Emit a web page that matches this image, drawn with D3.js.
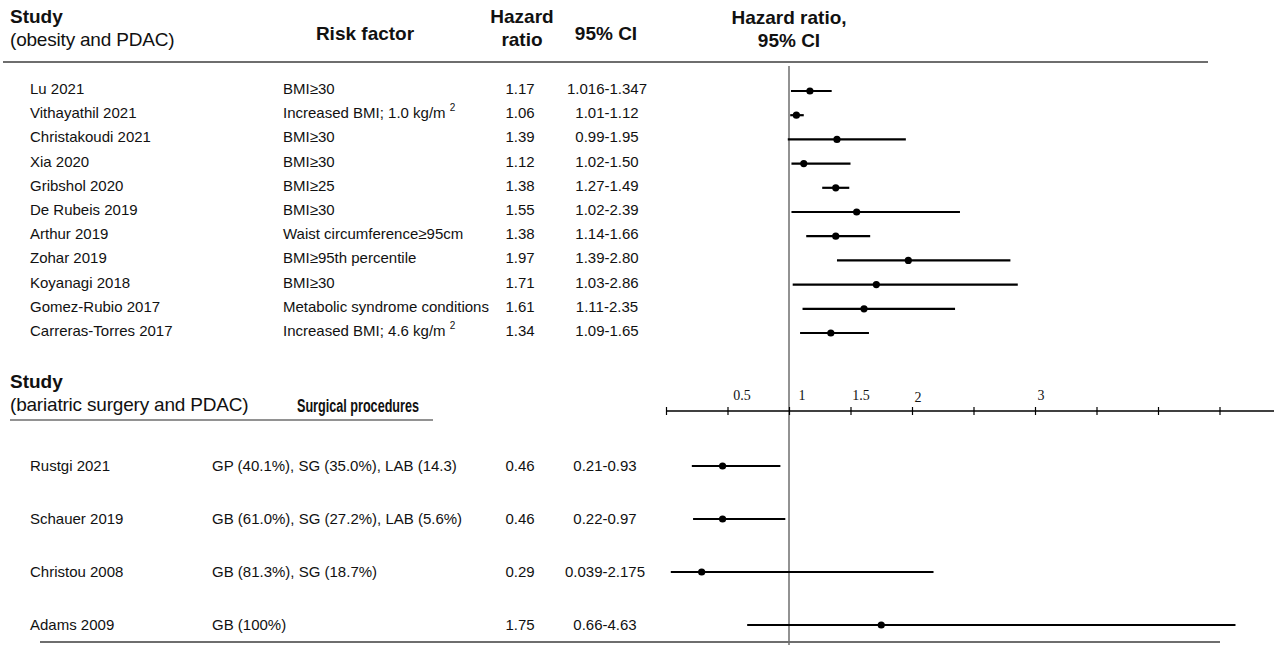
<!DOCTYPE html>
<html>
<head>
<meta charset="utf-8">
<script src="https://cdn.jsdelivr.net/npm/d3@7/dist/d3.min.js"></script>
<style>
  html, body { margin: 0; padding: 0; background: #fff; }
  svg { display: block; font-family: Arial, "Liberation Sans", sans-serif; }
</style>
</head>
<body>
<svg id="chart" width="1274" height="645"></svg>
<script>
// ---------- DATA ----------
const obesityStudies = ["Lu 2021", "Vithayathil 2021", "Christakoudi 2021", "Xia 2020", "Gribshol 2020",
  "De Rubeis 2019", "Arthur 2019", "Zohar 2019", "Koyanagi 2018", "Gomez-Rubio 2017", "Carreras-Torres 2017"];
const obesityFactors = ["BMI≥30", "Increased BMI; 1.0 kg/m|2", "BMI≥30", "BMI≥30", "BMI≥25", "BMI≥30",
  "Waist circumference≥95cm", "BMI≥95th percentile", "BMI≥30", "Metabolic syndrome conditions", "Increased BMI; 4.6 kg/m|2"];
const obesityHR = [1.17, 1.06, 1.39, 1.12, 1.38, 1.55, 1.38, 1.97, 1.71, 1.61, 1.34];
const obesityLow = [1.016, 1.01, 0.99, 1.02, 1.27, 1.02, 1.14, 1.39, 1.03, 1.11, 1.09];
const obesityHigh = [1.347, 1.12, 1.95, 1.50, 1.49, 2.39, 1.66, 2.80, 2.86, 2.35, 1.65];
const obesityHRText = ["1.17", "1.06", "1.39", "1.12", "1.38", "1.55", "1.38", "1.97", "1.71", "1.61", "1.34"];
const obesityCIText = ["1.016-1.347", "1.01-1.12", "0.99-1.95", "1.02-1.50", "1.27-1.49", "1.02-2.39",
  "1.14-1.66", "1.39-2.80", "1.03-2.86", "1.11-2.35", "1.09-1.65"];

const surgeryStudies = ["Rustgi 2021", "Schauer 2019", "Christou 2008", "Adams 2009"];
const surgeryProcedures = ["GP (40.1%), SG (35.0%),  LAB (14.3)", "GB (61.0%), SG (27.2%), LAB (5.6%)",
  "GB (81.3%), SG (18.7%)", "GB (100%)"];
const surgeryHR = [0.46, 0.46, 0.29, 1.75];
const surgeryLow = [0.21, 0.22, 0.039, 0.66];
const surgeryHigh = [0.93, 0.97, 2.175, 4.63];
const surgeryHRText = ["0.46", "0.46", "0.29", "1.75"];
const surgeryCIText = ["0.21-0.93", "0.22-0.97", "0.039-2.175", "0.66-4.63"];

const axisTicks = [0, 0.5, 1, 1.5, 2, 2.5, 3, 3.5, 4, 4.5];
const axisLabels = ["0.5", "1", "1.5", "2", "3"];
const axisLabelValues = [0.5, 1, 1.5, 2, 3];

// ---------- LAYOUT ----------
const svg = d3.select("#chart");
const x = d3.scaleLinear().domain([0, 1]).range([666, 789]);
const yTop = d3.scalePoint().domain(obesityStudies).range([90, 332]);
const yBot = d3.scalePoint().domain(surgeryStudies).range([466, 625]);

const bodySize = 15, headSize = 19, subSize = 19;
const gray = "#6e6e6e";

function txt(xp, yp, s, opts = {}) {
  const t = svg.append("text")
    .attr("x", xp).attr("y", yp)
    .attr("font-size", opts.size || bodySize)
    .attr("font-weight", opts.bold ? "bold" : "normal")
    .attr("text-anchor", opts.anchor || "start")
    .attr("dominant-baseline", "middle")
    .attr("fill", "#111");
  if (opts.spacing) t.attr("letter-spacing", opts.spacing);
  if (opts.len) t.attr("textLength", opts.len).attr("lengthAdjust", "spacingAndGlyphs");
  if (s.includes("|")) {
    const [a, b] = s.split("|");
    t.append("tspan").text(a + " ");
    t.append("tspan").attr("font-size", 10).attr("dy", -6).text(b);
  } else t.text(s);
  return t;
}

// Headers (top)
txt(10, 18, "Study", {bold: true, size: headSize});
txt(10, 41, "(obesity and PDAC)", {size: subSize, spacing: -0.2});
txt(365, 35, "Risk factor", {bold: true, size: headSize, anchor: "middle"});
txt(522, 18, "Hazard", {bold: true, size: headSize, anchor: "middle"});
txt(522, 41, "ratio", {bold: true, size: headSize, anchor: "middle"});
txt(606, 35, "95% CI", {bold: true, size: headSize, anchor: "middle"});
txt(789, 19, "Hazard ratio,", {bold: true, size: headSize, anchor: "middle"});
txt(789, 42, "95% CI", {bold: true, size: headSize, anchor: "middle"});

// rules
svg.append("line").attr("x1", 3).attr("x2", 1208).attr("y1", 62).attr("y2", 62)
  .attr("stroke", gray).attr("stroke-width", 2);
svg.append("line").attr("x1", 40).attr("x2", 1220).attr("y1", 642).attr("y2", 642)
  .attr("stroke", gray).attr("stroke-width", 2);
svg.append("line").attr("x1", 10).attr("x2", 433).attr("y1", 420).attr("y2", 420)
  .attr("stroke", gray).attr("stroke-width", 1.5);

// reference line at HR = 1
svg.append("line").attr("x1", x(1)).attr("x2", x(1)).attr("y1", 66).attr("y2", 645)
  .attr("stroke", gray).attr("stroke-width", 1.5);

// Obesity rows
obesityStudies.forEach((s, i) => {
  const yy = yTop(s);
  txt(30, yy, s);
  txt(283, yy, obesityFactors[i]);
  txt(520, yy, obesityHRText[i], {anchor: "middle"});
  txt(607, yy, obesityCIText[i], {anchor: "middle"});
  svg.append("line").attr("x1", x(obesityLow[i])).attr("x2", x(obesityHigh[i]))
    .attr("y1", yy + 1).attr("y2", yy + 1).attr("stroke", "#000").attr("stroke-width", 2.2);
  svg.append("circle").attr("cx", x(obesityHR[i])).attr("cy", yy + 1).attr("r", 3.6).attr("fill", "#000");
});

// Lower headers
txt(10, 383, "Study", {bold: true, size: headSize});
txt(10, 406, "(bariatric surgery and PDAC)", {size: subSize, spacing: -0.2});
txt(297, 407, "Surgical procedures", {bold: true, size: 18, len: 122});

// Axis
const axis = d3.axisTop(x).tickValues(axisTicks).tickSize(8).tickFormat("");
const ag = svg.append("g").attr("transform", "translate(0,415)").call(axis);
ag.select(".domain").attr("d", "M666,-4H1274").attr("stroke", "#000").attr("stroke-width", 1.3);
ag.selectAll(".tick line").attr("stroke", "#000").attr("stroke-width", 1.2);
const labelShift = [14.5, 13, 10.5, 6, 6];
const labelDy = [0, 0, 0, 2, 0];
axisLabels.forEach((l, i) => {
  svg.append("text").attr("x", x(axisLabelValues[i]) + labelShift[i]).attr("y", 400 + labelDy[i])
    .attr("text-anchor", "middle").attr("font-family", "'Liberation Serif', 'Times New Roman', serif")
    .attr("font-size", 14).attr("fill", "#111").text(l);
});

// Surgery rows
surgeryStudies.forEach((s, i) => {
  const yy = yBot(s);
  txt(30, yy + 1, s);
  txt(212, yy + 1, surgeryProcedures[i]);
  txt(520, yy + 1, surgeryHRText[i], {anchor: "middle"});
  txt(605, yy + 1, surgeryCIText[i], {anchor: "middle"});
  svg.append("line").attr("x1", x(surgeryLow[i])).attr("x2", x(surgeryHigh[i]))
    .attr("y1", yy).attr("y2", yy).attr("stroke", "#000").attr("stroke-width", 2.2);
  svg.append("circle").attr("cx", x(surgeryHR[i])).attr("cy", yy).attr("r", 3.6).attr("fill", "#000");
});
</script>
</body>
</html>
